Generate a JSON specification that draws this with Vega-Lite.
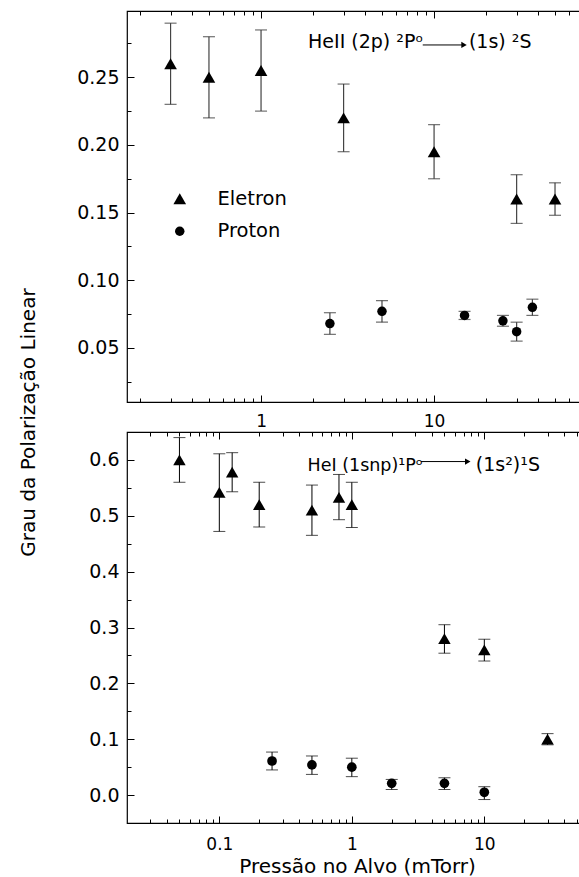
{
  "$schema": "https://vega.github.io/schema/vega-lite/v6.json",
  "padding": {"left": 17, "top": 9, "right": 0, "bottom": 0},
  "background": "white",
  "config": {
    "font": "DejaVu Sans",
    "view": {"stroke": "black", "strokeWidth": 1.2},
    "axis": {"domain": false, "grid": false, "tickColor": "black", "tickWidth": 1, "labelColor": "black", "labelFontSize": 17, "titleColor": "black", "titleFontWeight": "normal", "labelOverlap": false, "labelBound": false, "labelFlush": false}
  },
  "bounds": "flush",
  "spacing": 30,
  "resolve": {"legend": {"shape": "independent", "size": "independent"}},
  "datasets": {
    "top": [
      {"series": "Eletron", "p": 0.3, "v": 0.26, "lo": 0.23, "hi": 0.29},
      {"series": "Eletron", "p": 0.5, "v": 0.25, "lo": 0.22, "hi": 0.28},
      {"series": "Eletron", "p": 1, "v": 0.255, "lo": 0.225, "hi": 0.285},
      {"series": "Eletron", "p": 3, "v": 0.22, "lo": 0.195, "hi": 0.245},
      {"series": "Eletron", "p": 10, "v": 0.195, "lo": 0.175, "hi": 0.215},
      {"series": "Eletron", "p": 30, "v": 0.16, "lo": 0.142, "hi": 0.178},
      {"series": "Eletron", "p": 50, "v": 0.16, "lo": 0.148, "hi": 0.172},
      {"series": "Proton", "p": 2.5, "v": 0.068, "lo": 0.06, "hi": 0.076},
      {"series": "Proton", "p": 5, "v": 0.077, "lo": 0.069, "hi": 0.085},
      {"series": "Proton", "p": 15, "v": 0.074, "lo": 0.071, "hi": 0.077},
      {"series": "Proton", "p": 25, "v": 0.07, "lo": 0.066, "hi": 0.074},
      {"series": "Proton", "p": 30, "v": 0.062, "lo": 0.055, "hi": 0.069},
      {"series": "Proton", "p": 37, "v": 0.08, "lo": 0.074, "hi": 0.086}
    ],
    "bottom": [
      {"series": "Eletron", "p": 0.05, "v": 0.6, "lo": 0.56, "hi": 0.64},
      {"series": "Eletron", "p": 0.1, "v": 0.542, "lo": 0.472, "hi": 0.611},
      {"series": "Eletron", "p": 0.125, "v": 0.578, "lo": 0.543, "hi": 0.613},
      {"series": "Eletron", "p": 0.2, "v": 0.52, "lo": 0.48, "hi": 0.56},
      {"series": "Eletron", "p": 0.5, "v": 0.51, "lo": 0.465, "hi": 0.555},
      {"series": "Eletron", "p": 0.8, "v": 0.533, "lo": 0.493, "hi": 0.574},
      {"series": "Eletron", "p": 1, "v": 0.52, "lo": 0.479, "hi": 0.56},
      {"series": "Eletron", "p": 5, "v": 0.28, "lo": 0.254, "hi": 0.305},
      {"series": "Eletron", "p": 10, "v": 0.26, "lo": 0.24, "hi": 0.279},
      {"series": "Eletron", "p": 30, "v": 0.1, "lo": 0.09, "hi": 0.11},
      {"series": "Proton", "p": 0.25, "v": 0.061, "lo": 0.045, "hi": 0.077},
      {"series": "Proton", "p": 0.5, "v": 0.054, "lo": 0.037, "hi": 0.07},
      {"series": "Proton", "p": 1, "v": 0.05, "lo": 0.033, "hi": 0.066},
      {"series": "Proton", "p": 2, "v": 0.021, "lo": 0.01, "hi": 0.028},
      {"series": "Proton", "p": 5, "v": 0.021, "lo": 0.01, "hi": 0.031},
      {"series": "Proton", "p": 10, "v": 0.005, "lo": -0.008, "hi": 0.015}
    ],
    "topNote": [
      {"label": "HeII (2p) ²Pᵒ", "p": 1.87, "v": 0.2716},
      {"label": "(1s) ²S", "p": 15.9, "v": 0.2716}
    ],
    "topArrow": [{"p": 8.6, "p2": 14.9, "v": 0.2739}],
    "bottomNoteA": [{"label": "HeI (1snp)¹Pᵒ", "p": 0.463, "v": 0.5798}],
    "bottomNoteB": [{"label": "(1s²)¹S", "p": 8.63, "v": 0.5798}],
    "bottomArrow": [{"p": 3.32, "p2": 7.5, "v": 0.5971}]
  },
  "vconcat": [
    {
      "width": 455,
      "height": 391,
      "resolve": {"axis": {"x": "independent"}},
      "encoding": {
        "x": {"field": "p", "type": "quantitative", "scale": {"type": "log", "domain": [0.168, 71.6], "nice": false}, "axis": null},
        "y": {"field": "v", "type": "quantitative", "scale": {"domain": [0.01, 0.299], "nice": false, "zero": false},
          "axis": {"values": [0.025, 0.05, 0.075, 0.1, 0.125, 0.15, 0.175, 0.2, 0.225, 0.25, 0.275], "format": ".2f",
            "labelExpr": "indexof([0.05,0.1,0.15,0.2,0.25], datum.value) >= 0 ? datum.label : ''",
            "tickSize": {"condition": {"test": "indexof([0.05,0.1,0.15,0.2,0.25], datum.value) >= 0", "value": -7}, "value": -4},
            "labelPadding": 15, "labelFontSize": 19,
            "title": "Grau da Polarização Linear", "titleFontSize": 20, "titleX": -89, "titleY": 411, "titleAngle": 270, "titleBaseline": "bottom", "titleAlign": "center"}}
      },
      "layer": [
        {
          "data": {"name": "top"},
          "mark": {"type": "rule", "color": "#444444", "strokeWidth": 1.2},
          "encoding": {
            "x": {"field": "p", "type": "quantitative",
              "axis": {"orient": "bottom", "values": [0.2, 0.3, 0.4, 0.5, 0.6, 0.7, 0.8, 0.9, 1, 2, 3, 4, 5, 6, 7, 8, 9, 10, 20, 30, 40, 50, 60, 70], "format": "~g",
                "labelExpr": "datum.value == 1 || datum.value == 10 ? datum.label : ''",
                "tickSize": {"condition": {"test": "datum.value == 1 || datum.value == 10", "value": -7}, "value": -4},
                "labelPadding": 18, "title": null}},
            "y": {"field": "lo", "type": "quantitative"},
            "y2": {"field": "hi"}
          }
        },
        {
          "data": {"name": "top"},
          "mark": {"type": "tick", "orient": "horizontal", "size": 12, "thickness": 1.2, "color": "#333333"},
          "encoding": {"y": {"field": "lo", "type": "quantitative"}}
        },
        {
          "data": {"name": "top"},
          "mark": {"type": "tick", "orient": "horizontal", "size": 12, "thickness": 1.2, "color": "#333333"},
          "encoding": {"y": {"field": "hi", "type": "quantitative"}}
        },
        {
          "data": {"name": "top"},
          "mark": {"type": "point", "filled": true, "color": "black", "opacity": 1},
          "encoding": {
            "x": {"field": "p", "type": "quantitative",
              "axis": {"orient": "top", "values": [0.2, 0.3, 0.4, 0.5, 0.6, 0.7, 0.8, 0.9, 1, 2, 3, 4, 5, 6, 7, 8, 9, 10, 20, 30, 40, 50, 60, 70], "labels": false,
                "tickSize": {"condition": {"test": "datum.value == 1 || datum.value == 10", "value": -7}, "value": -4}, "title": null}},
            "shape": {"field": "series", "type": "ordinal", "scale": {"domain": ["Eletron", "Proton"], "range": ["triangle-up", "circle"]},
              "legend": {"orient": "none", "legendX": 43, "legendY": 178, "title": null, "labelFontSize": 19.5, "labelColor": "black", "symbolFillColor": "black", "symbolStrokeColor": "black", "symbolStrokeWidth": 0, "symbolOpacity": 1, "labelOffset": 28, "rowPadding": 11.5, "padding": 0}},
            "size": {"field": "series", "type": "ordinal", "scale": {"domain": ["Eletron", "Proton"], "range": [160, 90]},
              "legend": {"orient": "none", "legendX": 43, "legendY": 178, "title": null, "labelFontSize": 19.5, "labelColor": "black", "symbolFillColor": "black", "symbolStrokeColor": "black", "symbolStrokeWidth": 0, "symbolOpacity": 1, "labelOffset": 28, "rowPadding": 11.5, "padding": 0}}
          }
        },
        {
          "data": {"name": "topNote"},
          "mark": {"type": "text", "align": "left", "baseline": "alphabetic", "fontSize": 19, "color": "black"},
          "encoding": {"text": {"field": "label"}}
        },
        {
          "data": {"name": "topArrow"},
          "mark": {"type": "rule", "color": "black", "strokeWidth": 1},
          "encoding": {"x2": {"field": "p2"}}
        },
        {
          "data": {"name": "topArrow"},
          "mark": {"type": "point", "shape": "triangle-right", "filled": true, "color": "black", "opacity": 1, "size": 40},
          "encoding": {"x": {"field": "p2", "type": "quantitative", "axis": null}}
        }
      ]
    },
    {
      "width": 455,
      "height": 391,
      "resolve": {"axis": {"x": "independent"}},
      "encoding": {
        "x": {"field": "p", "type": "quantitative", "scale": {"type": "log", "domain": [0.0201, 54.6], "nice": false}, "axis": null},
        "y": {"field": "v", "type": "quantitative", "scale": {"domain": [-0.05, 0.65], "nice": false, "zero": false},
          "axis": {"values": [0, 0.05, 0.1, 0.15, 0.2, 0.25, 0.3, 0.35, 0.4, 0.45, 0.5, 0.55, 0.6], "format": ".1f",
            "labelExpr": "indexof([0,0.1,0.2,0.3,0.4,0.5,0.6], datum.value) >= 0 ? datum.label : ''",
            "tickSize": {"condition": {"test": "indexof([0,0.1,0.2,0.3,0.4,0.5,0.6], datum.value) >= 0", "value": -7}, "value": -4},
            "labelPadding": 15, "labelFontSize": 19, "title": null}}
      },
      "layer": [
        {
          "data": {"name": "bottom"},
          "mark": {"type": "rule", "color": "black", "strokeWidth": 1},
          "encoding": {
            "x": {"field": "p", "type": "quantitative",
              "axis": {"orient": "bottom", "values": [0.03, 0.04, 0.05, 0.06, 0.07, 0.08, 0.09, 0.1, 0.2, 0.3, 0.4, 0.5, 0.6, 0.7, 0.8, 0.9, 1, 2, 3, 4, 5, 6, 7, 8, 9, 10, 20, 30, 40, 50], "format": "~g",
                "labelExpr": "datum.value == 0.1 || datum.value == 1 || datum.value == 10 ? datum.label : ''",
                "tickSize": {"condition": {"test": "datum.value == 0.1 || datum.value == 1 || datum.value == 10", "value": -7}, "value": -4},
                "labelPadding": 20,
                "title": "Pressão no Alvo (mTorr)", "titleFontSize": 20, "titleBaseline": "alphabetic", "titleY": 49, "titleX": 230, "titleAlign": "center"}},
            "y": {"field": "lo", "type": "quantitative"},
            "y2": {"field": "hi"}
          }
        },
        {
          "data": {"name": "bottom"},
          "mark": {"type": "tick", "orient": "horizontal", "size": 12, "thickness": 1, "color": "black"},
          "encoding": {"y": {"field": "lo", "type": "quantitative"}}
        },
        {
          "data": {"name": "bottom"},
          "mark": {"type": "tick", "orient": "horizontal", "size": 12, "thickness": 1, "color": "black"},
          "encoding": {"y": {"field": "hi", "type": "quantitative"}}
        },
        {
          "data": {"name": "bottom"},
          "transform": [{"filter": "datum.series == 'Eletron'"}],
          "mark": {"type": "point", "shape": "triangle-up", "filled": true, "color": "black", "opacity": 1, "size": 155},
          "encoding": {
            "x": {"field": "p", "type": "quantitative",
              "axis": {"orient": "top", "values": [0.03, 0.04, 0.05, 0.06, 0.07, 0.08, 0.09, 0.1, 0.2, 0.3, 0.4, 0.5, 0.6, 0.7, 0.8, 0.9, 1, 2, 3, 4, 5, 6, 7, 8, 9, 10, 20, 30, 40, 50], "labels": false,
                "tickSize": {"condition": {"test": "datum.value == 0.1 || datum.value == 1 || datum.value == 10", "value": -7}, "value": -4}, "title": null}}
          }
        },
        {
          "data": {"name": "bottom"},
          "transform": [{"filter": "datum.series == 'Proton'"}],
          "mark": {"type": "point", "shape": "circle", "filled": true, "color": "black", "opacity": 1, "size": 94}
        },
        {
          "data": {"name": "bottomNoteA"},
          "mark": {"type": "text", "align": "left", "baseline": "alphabetic", "fontSize": 17.5, "color": "black"},
          "encoding": {"text": {"field": "label"}}
        },
        {
          "data": {"name": "bottomNoteB"},
          "mark": {"type": "text", "align": "left", "baseline": "alphabetic", "fontSize": 19, "color": "black"},
          "encoding": {"text": {"field": "label"}}
        },
        {
          "data": {"name": "bottomArrow"},
          "mark": {"type": "rule", "color": "black", "strokeWidth": 1},
          "encoding": {"x2": {"field": "p2"}}
        },
        {
          "data": {"name": "bottomArrow"},
          "mark": {"type": "point", "shape": "triangle-right", "filled": true, "color": "black", "opacity": 1, "size": 40},
          "encoding": {"x": {"field": "p2", "type": "quantitative", "axis": null}}
        }
      ]
    }
  ]
}
